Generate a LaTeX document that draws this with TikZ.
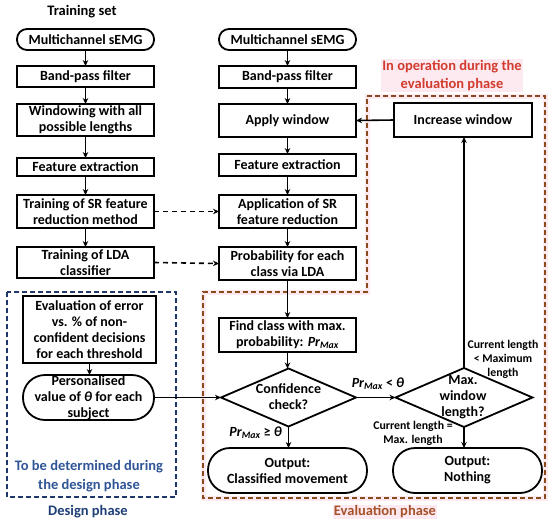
\documentclass[tikz,border=0pt]{standalone}
\usepackage{fontspec}
\setmainfont{Carlito}
\usetikzlibrary{shapes.geometric,arrows.meta}
\definecolor{pinkbg}{HTML}{FDE9F0}
\definecolor{brownln}{HTML}{8B4A1C}
\definecolor{redtxt}{HTML}{D23C2E}
\definecolor{browntxt}{HTML}{A5522A}
\definecolor{bluetxt}{HTML}{2F5597}
\definecolor{bluedark}{HTML}{1F3F77}
\definecolor{blueln}{HTML}{1F3864}
\begin{document}
\begin{tikzpicture}[x=1pt,y=-1pt,
 base/.style={font=\fontsize{14}{16}\selectfont\bfseries, align=center},
 box/.style={base, draw, line width=1.8pt, inner sep=0pt, outer sep=0pt},
 term/.style={box, rounded corners=10pt},
 bigterm/.style={box, rounded corners=22pt},
 dia/.style={draw, diamond, line width=1.8pt, inner sep=0pt, outer sep=0pt},
 arr/.style={line width=1.6pt, -{Stealth[length=6pt,width=5.5pt]}},
 darr/.style={arr, dash pattern=on 5pt off 4pt},
 lbl/.style={base, inner sep=1pt},
 small/.style={font=\fontsize{11.8}{14}\selectfont\bfseries, align=center, inner sep=1pt},
 phase/.style={font=\fontsize{14.5}{18.5}\selectfont\bfseries, align=center, inner sep=1pt},
]
\useasboundingbox (0,0) rectangle (550,523);

% region boxes
\draw[line width=5pt, pinkbg] (367,96) -- (545,96) -- (545,498) -- (203,498) -- (203,292) -- (367,292) -- cycle;
\draw[line width=1.8pt, brownln, dash pattern=on 5pt off 3pt] (367,96) -- (545,96) -- (545,498) -- (203,498) -- (203,292) -- (367,292) -- cycle;
\draw[line width=1.8pt, blueln, dash pattern=on 5pt off 3pt] (7,292) rectangle (176,497);

% titles
\node[phase] (title) at (82,12) {Training set};
\node[phase, text=redtxt, fill=pinkbg] (op) at (452,75.5) {In operation during the\\evaluation phase};
\node[phase, text=bluetxt] (tbd) at (89,476) {To be determined during\\the design phase};
\node[phase, text=bluedark] (dph) at (88,512) {Design phase};
\node[phase, text=browntxt, fill=pinkbg] (eph) at (385,512) {Evaluation phase};

% left column
\node[term, minimum width=137pt, minimum height=21pt] (L1) at (85.5,39.5) {Multichannel sEMG};
\node[box, minimum width=137pt, minimum height=21pt] (L2) at (85.5,76.5) {Band-pass filter};
\node[box, minimum width=137pt, minimum height=32pt] (L3) at (85.5,120) {Windowing with all\\possible lengths};
\node[box, minimum width=137pt, minimum height=18pt] (L4) at (85.5,167) {Feature extraction};
\node[box, minimum width=137pt, minimum height=33pt] (L5) at (85.5,211.5) {Training of SR feature\\reduction method};
\node[box, minimum width=137pt, minimum height=31pt] (L6) at (85.5,262.5) {Training of LDA\\classifier};
\node[box, minimum width=133pt, minimum height=67pt] (L7) at (89.5,329.5) {Evaluation of error\\vs. \% of non-\\confident decisions\\for each threshold};
\node[bigterm, minimum width=131pt, minimum height=45pt] (L8) at (88.5,397.5) {Personalised\\value of \textit{θ} for each\\subject};

% middle column
\node[term, minimum width=137pt, minimum height=21pt] (M1) at (287.5,39.5) {Multichannel sEMG};
\node[box, minimum width=137pt, minimum height=22pt] (M2) at (287.5,77) {Band-pass filter};
\node[box, minimum width=137pt, minimum height=33pt] (M3) at (287.5,120.5) {Apply window};
\node[box, minimum width=137pt, minimum height=22pt] (M4) at (287.5,165) {Feature extraction};
\node[box, minimum width=137pt, minimum height=33pt] (M5) at (287.5,211.5) {Application of SR\\feature reduction};
\node[box, minimum width=137pt, minimum height=33pt] (M6) at (287.5,263.5) {Probability for each\\class via LDA};
\node[box, minimum width=137pt, minimum height=34pt] (M7) at (287.5,335) {Find class with max.\\probability: \textit{Pr\textsubscript{Max}}};
\node[dia, minimum width=135pt, minimum height=58pt] (M8) at (288.5,397.5) {};
\node[base] (M8t) at (288.5,397) {Confidence\\check?};
\node[bigterm, minimum width=159pt, minimum height=45pt] (M9) at (287.5,470.5) {Output:\\Classified movement};

% right column
\node[box, minimum width=138pt, minimum height=34pt] (R1) at (463,120) {Increase window};
\node[dia, minimum width=137pt, minimum height=59pt] (R2) at (464,397.5) {};
\node[base] (R2t) at (463,397) {Max.\\window\\length?};
\node[bigterm, minimum width=149pt, minimum height=45pt] (R3) at (467.5,470.5) {Output:\\Nothing};

% arrows left
\draw[arr] (L1) -- (L2);
\draw[arr] (L2) -- (L3);
\draw[arr] (L3) -- (L4);
\draw[arr] (L4) -- (L5);
\draw[arr] (L5) -- (L6);
\draw[arr] (L7.south) -- (L7.south |- L8.north);
\draw[arr] (L8.east) -- (M8.west);

% arrows middle
\draw[arr] (M1) -- (M2);
\draw[arr] (M2) -- (M3);
\draw[arr] (M3) -- (M4);
\draw[arr] (M4) -- (M5);
\draw[arr] (M5) -- (M6);
\draw[arr] (M6) -- (M7);
\draw[arr] (M7.south) -- (M7.south |- M8.north);
\draw[arr] (M8.south) -- (M8.south |- M9.north);

% dashed cross arrows
\draw[darr] (L5.east) -- (M5.west);
\draw[darr] (L6.east) -- (M6.west);

% right arrows
\draw[arr] (M8.east) -- (R2.west);
\draw[arr] (R2.north) -- (R2.north |- R1.south);
\draw[arr] (R1.west) -- (M3.east);
\draw[arr] (R2.south) -- (R2.south |- R3.north);

% labels
\node[lbl, anchor=east] (lge) at (283,433) {\textit{Pr\textsubscript{Max}} ≥ \textit{θ}};
\node[lbl] (llt) at (378,384) {\textit{Pr\textsubscript{Max}} < \textit{θ}};
\node[small] (lcl) at (503,359) {Current length\\< Maximum\\length};
\node[small] (lce) at (413,433.5) {Current length =\\Max. length};
\end{tikzpicture}
\end{document}
